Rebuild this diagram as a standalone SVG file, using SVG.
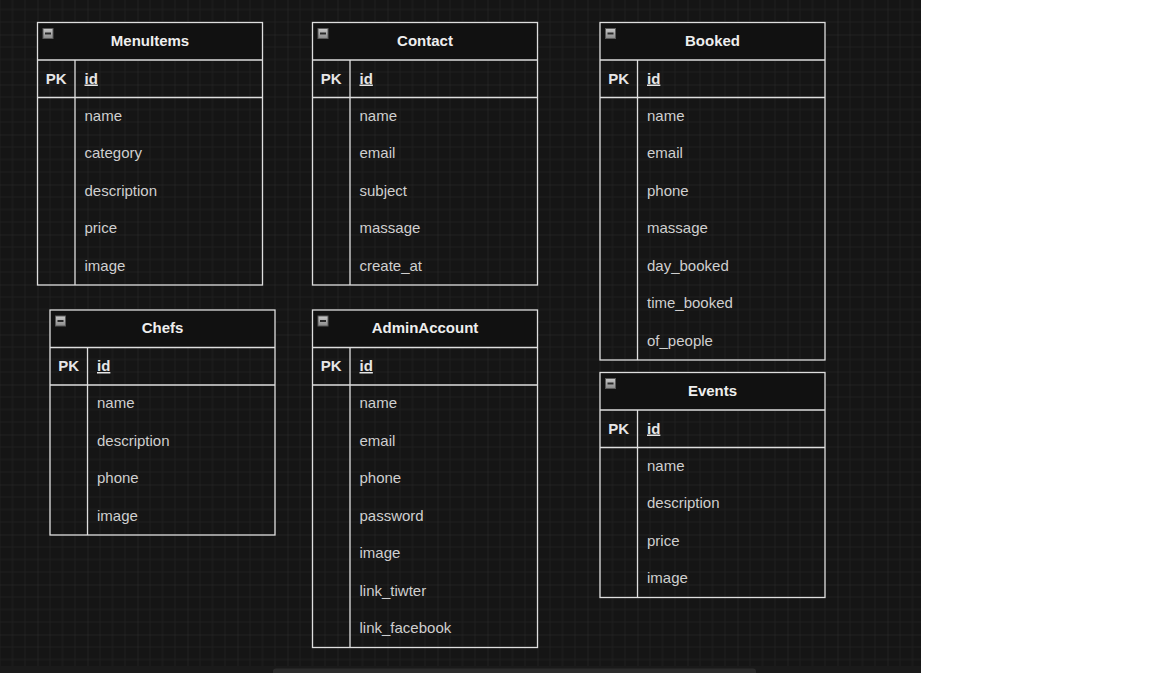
<svg xmlns="http://www.w3.org/2000/svg" width="1152" height="673" viewBox="0 0 1152 673">
<defs>
<pattern id="grid" patternUnits="userSpaceOnUse" x="37.5" y="34.5" width="50" height="50">
<rect width="50" height="50" fill="#151515"/>
<path d="M12.5 0V50M25 0V50M37.5 0V50M0 12.5H50M0 25H50M0 37.5H50" stroke="#1f1f1f" stroke-width="1" fill="none"/>
<path d="M0 0V50M0 0H50" stroke="#2d2d2d" stroke-width="1" fill="none"/>
</pattern>
<linearGradient id="ig" x1="0" y1="0" x2="0" y2="1">
<stop offset="0" stop-color="#c8c8c8"/>
<stop offset="1" stop-color="#8a8a8a"/>
</linearGradient>
<g id="icon">
<rect x="0.5" y="0.5" width="10" height="10" fill="url(#ig)" stroke="#5a5a5a" stroke-width="1"/>
<line x1="2.5" y1="5.5" x2="8.5" y2="5.5" stroke="#2a2a2a" stroke-width="2"/>
</g>
</defs>
<style>
.frame{fill:none;stroke:#dedede;stroke-width:1.3}
.head{fill:#111111}
.ln{stroke:#dedede;stroke-width:1.3}
.title{font-family:"Liberation Sans",Arial,sans-serif;font-size:15px;font-weight:bold;fill:#eeeeee;text-anchor:middle}
.pk{font-family:"Liberation Sans",Arial,sans-serif;font-size:15px;font-weight:bold;fill:#e6e6e6;text-anchor:middle}
.id{font-family:"Liberation Sans",Arial,sans-serif;font-size:15px;font-weight:bold;fill:#e6e6e6;text-decoration:underline}
.f{font-family:"Liberation Sans",Arial,sans-serif;font-size:15px;fill:#cfcfcf}
</style>
<rect x="0" y="0" width="1152" height="673" fill="#ffffff"/>
<rect x="0" y="0" width="921" height="666" fill="url(#grid)"/>
<rect x="0" y="666" width="921" height="7" fill="#1a1a1a"/>
<rect x="273" y="668.5" width="483" height="8" rx="3" fill="#2c2c2c"/>

<g id="connectors"></g>

<g id="MenuItems">
<rect class="head" x="37.5" y="22.5" width="225" height="37.5"/>
<rect class="frame" x="37.5" y="22.5" width="225" height="262.5"/>
<line class="ln" x1="37.5" y1="60" x2="262.5" y2="60"/>
<line class="ln" x1="37.5" y1="97.5" x2="262.5" y2="97.5"/>
<line class="ln" x1="75" y1="60" x2="75" y2="285"/>
<use href="#icon" x="42.5" y="28"/>
<text class="title" x="150" y="45.5">MenuItems</text>
<text class="pk" x="56.25" y="83.5">PK</text>
<text class="id" x="84.5" y="83.5">id</text>
<text class="f" x="84.5" y="120.5">name</text>
<text class="f" x="84.5" y="158">category</text>
<text class="f" x="84.5" y="195.5">description</text>
<text class="f" x="84.5" y="233">price</text>
<text class="f" x="84.5" y="270.5">image</text>
</g>

<g id="Contact">
<rect class="head" x="312.5" y="22.5" width="225" height="37.5"/>
<rect class="frame" x="312.5" y="22.5" width="225" height="262.5"/>
<line class="ln" x1="312.5" y1="60" x2="537.5" y2="60"/>
<line class="ln" x1="312.5" y1="97.5" x2="537.5" y2="97.5"/>
<line class="ln" x1="350" y1="60" x2="350" y2="285"/>
<use href="#icon" x="317.5" y="28"/>
<text class="title" x="425" y="45.5">Contact</text>
<text class="pk" x="331.25" y="83.5">PK</text>
<text class="id" x="359.5" y="83.5">id</text>
<text class="f" x="359.5" y="120.5">name</text>
<text class="f" x="359.5" y="158">email</text>
<text class="f" x="359.5" y="195.5">subject</text>
<text class="f" x="359.5" y="233">massage</text>
<text class="f" x="359.5" y="270.5">create_at</text>
</g>

<g id="Booked">
<rect class="head" x="600" y="22.5" width="225" height="37.5"/>
<rect class="frame" x="600" y="22.5" width="225" height="337.5"/>
<line class="ln" x1="600" y1="60" x2="825" y2="60"/>
<line class="ln" x1="600" y1="97.5" x2="825" y2="97.5"/>
<line class="ln" x1="637.5" y1="60" x2="637.5" y2="360"/>
<use href="#icon" x="605" y="28"/>
<text class="title" x="712.5" y="45.5">Booked</text>
<text class="pk" x="618.75" y="83.5">PK</text>
<text class="id" x="647" y="83.5">id</text>
<text class="f" x="647" y="120.5">name</text>
<text class="f" x="647" y="158">email</text>
<text class="f" x="647" y="195.5">phone</text>
<text class="f" x="647" y="233">massage</text>
<text class="f" x="647" y="270.5">day_booked</text>
<text class="f" x="647" y="308">time_booked</text>
<text class="f" x="647" y="345.5">of_people</text>
</g>

<g id="Chefs">
<rect class="head" x="50" y="310" width="225" height="37.5"/>
<rect class="frame" x="50" y="310" width="225" height="225"/>
<line class="ln" x1="50" y1="347.5" x2="275" y2="347.5"/>
<line class="ln" x1="50" y1="385" x2="275" y2="385"/>
<line class="ln" x1="87.5" y1="347.5" x2="87.5" y2="535"/>
<use href="#icon" x="55" y="315.5"/>
<text class="title" x="162.5" y="333">Chefs</text>
<text class="pk" x="68.75" y="371">PK</text>
<text class="id" x="97" y="371">id</text>
<text class="f" x="97" y="408">name</text>
<text class="f" x="97" y="445.5">description</text>
<text class="f" x="97" y="483">phone</text>
<text class="f" x="97" y="520.5">image</text>
</g>

<g id="AdminAccount">
<rect class="head" x="312.5" y="310" width="225" height="37.5"/>
<rect class="frame" x="312.5" y="310" width="225" height="337.5"/>
<line class="ln" x1="312.5" y1="347.5" x2="537.5" y2="347.5"/>
<line class="ln" x1="312.5" y1="385" x2="537.5" y2="385"/>
<line class="ln" x1="350" y1="347.5" x2="350" y2="647.5"/>
<use href="#icon" x="317.5" y="315.5"/>
<text class="title" x="425" y="333">AdminAccount</text>
<text class="pk" x="331.25" y="371">PK</text>
<text class="id" x="359.5" y="371">id</text>
<text class="f" x="359.5" y="408">name</text>
<text class="f" x="359.5" y="445.5">email</text>
<text class="f" x="359.5" y="483">phone</text>
<text class="f" x="359.5" y="520.5">password</text>
<text class="f" x="359.5" y="558">image</text>
<text class="f" x="359.5" y="595.5">link_tiwter</text>
<text class="f" x="359.5" y="633">link_facebook</text>
</g>

<g id="Events">
<rect class="head" x="600" y="372.5" width="225" height="37.5"/>
<rect class="frame" x="600" y="372.5" width="225" height="225"/>
<line class="ln" x1="600" y1="410" x2="825" y2="410"/>
<line class="ln" x1="600" y1="447.5" x2="825" y2="447.5"/>
<line class="ln" x1="637.5" y1="410" x2="637.5" y2="597.5"/>
<use href="#icon" x="605" y="378"/>
<text class="title" x="712.5" y="395.5">Events</text>
<text class="pk" x="618.75" y="433.5">PK</text>
<text class="id" x="647" y="433.5">id</text>
<text class="f" x="647" y="470.5">name</text>
<text class="f" x="647" y="508">description</text>
<text class="f" x="647" y="545.5">price</text>
<text class="f" x="647" y="583">image</text>
</g>
</svg>
